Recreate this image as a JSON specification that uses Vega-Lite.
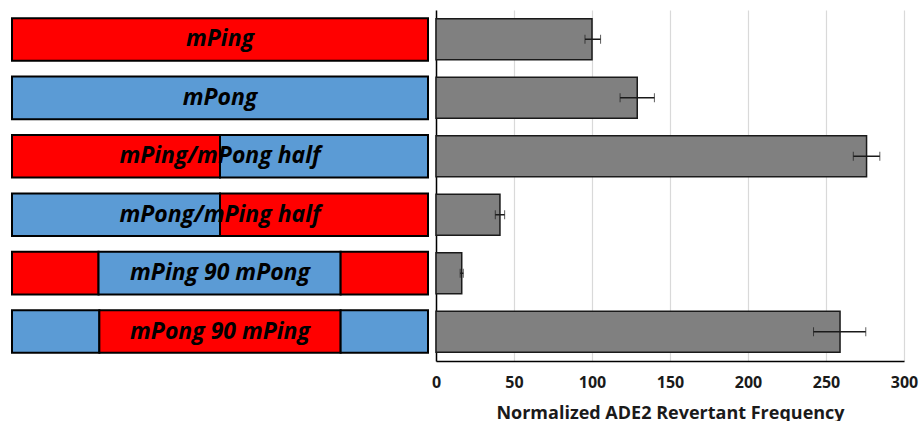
{
  "$schema": "https://vega.github.io/schema/vega-lite/v6.json",
  "background": "white",
  "padding": {"left": 11, "top": 10, "right": 5, "bottom": 0},
  "bounds": "flush",
  "spacing": 8,
  "config": {
    "view": {"stroke": null},
    "font": "Open Sans"
  },
  "datasets": {
    "segments": [
      {"construct": "mPing", "element": "mPing", "start": 0, "end": 1},
      {"construct": "mPong", "element": "mPong", "start": 0, "end": 1},
      {"construct": "mPing/mPong half", "element": "mPing", "start": 0, "end": 0.5},
      {"construct": "mPing/mPong half", "element": "mPong", "start": 0.5, "end": 1},
      {"construct": "mPong/mPing half", "element": "mPong", "start": 0, "end": 0.5},
      {"construct": "mPong/mPing half", "element": "mPing", "start": 0.5, "end": 1},
      {"construct": "mPing 90 mPong", "element": "mPing", "start": 0, "end": 0.208},
      {"construct": "mPing 90 mPong", "element": "mPong", "start": 0.208, "end": 0.79},
      {"construct": "mPing 90 mPong", "element": "mPing", "start": 0.79, "end": 1},
      {"construct": "mPong 90 mPing", "element": "mPong", "start": 0, "end": 0.21},
      {"construct": "mPong 90 mPing", "element": "mPing", "start": 0.21, "end": 0.79},
      {"construct": "mPong 90 mPing", "element": "mPong", "start": 0.79, "end": 1}
    ],
    "freq": [
      {"construct": "mPing", "value": 100, "lo": 95.5, "hi": 105.5},
      {"construct": "mPong", "value": 129, "lo": 118, "hi": 140},
      {"construct": "mPing/mPong half", "value": 276, "lo": 267.5, "hi": 284.5},
      {"construct": "mPong/mPing half", "value": 41, "lo": 38, "hi": 44},
      {"construct": "mPing 90 mPong", "value": 16.5, "lo": 15.5, "hi": 17.5},
      {"construct": "mPong 90 mPing", "value": 259, "lo": 242, "hi": 275.5}
    ]
  },
  "hconcat": [
    {
      "width": 416,
      "height": 351,
      "layer": [
        {
          "data": {"name": "segments"},
          "mark": {"type": "bar", "stroke": "black", "strokeWidth": 2},
          "encoding": {
            "y": {
              "field": "construct", "type": "nominal",
              "sort": ["mPing", "mPong", "mPing/mPong half", "mPong/mPing half", "mPing 90 mPong", "mPong 90 mPing"],
              "scale": {"paddingInner": 0.27, "paddingOuter": 0.14},
              "axis": null
            },
            "x": {"field": "start", "type": "quantitative", "scale": {"domain": [0, 1], "nice": false, "zero": true}, "axis": null},
            "x2": {"field": "end"},
            "color": {
              "field": "element", "type": "nominal",
              "scale": {"domain": ["mPing", "mPong"], "range": ["#ff0000", "#5b9bd5"]},
              "legend": null
            }
          }
        },
        {
          "data": {"name": "freq"},
          "mark": {"type": "text", "font": "Open Sans", "fontSize": 23, "fontWeight": "bold", "fontStyle": "italic", "color": "black", "align": "center", "baseline": "middle"},
          "encoding": {
            "y": {
              "field": "construct", "type": "nominal",
              "sort": ["mPing", "mPong", "mPing/mPong half", "mPong/mPing half", "mPing 90 mPong", "mPong 90 mPing"]
            },
            "x": {"datum": 0.5, "type": "quantitative"},
            "text": {"field": "construct"}
          }
        }
      ]
    },
    {
      "width": 468,
      "height": 351,
      "data": {"name": "freq"},
      "encoding": {
        "y": {
          "field": "construct", "type": "nominal",
          "sort": ["mPing", "mPong", "mPing/mPong half", "mPong/mPing half", "mPing 90 mPong", "mPong 90 mPing"],
          "scale": {"paddingInner": 0.3, "paddingOuter": 0.15},
          "axis": {"labels": false, "ticks": false, "title": null, "domain": true, "domainColor": "black", "domainWidth": 1.5, "grid": false}
        }
      },
      "layer": [
        {
          "mark": {"type": "bar", "fill": "#808080", "stroke": "#1a1a1a", "strokeWidth": 1.5},
          "encoding": {
            "x": {
              "field": "value", "type": "quantitative",
              "title": "Normalized ADE2 Revertant Frequency",
              "scale": {"domain": [0, 300], "nice": false},
              "axis": {
                "values": [0, 50, 100, 150, 200, 250, 300],
                "labelFlush": false,
                "titleFont": "Open Sans", "titleFontSize": 18, "titleFontWeight": "bold", "titleColor": "#1a1a1a", "titlePadding": 14,
                "labelFont": "Open Sans", "labelFontSize": 16, "labelFontWeight": "bold", "labelColor": "#1a1a1a", "labelPadding": 13,
                "ticks": false, "domainColor": "black", "domainWidth": 1.5,
                "grid": true, "gridColor": "#d9d9d9", "gridWidth": 1.2
              }
            }
          }
        },
        {
          "mark": {"type": "errorbar", "ticks": {"size": 9, "color": "#1a1a1a", "strokeWidth": 1.5}, "rule": {"color": "#1a1a1a", "strokeWidth": 1.5}},
          "encoding": {
            "x": {"field": "lo", "type": "quantitative", "title": "Normalized ADE2 Revertant Frequency"},
            "x2": {"field": "hi"}
          }
        }
      ]
    }
  ]
}
